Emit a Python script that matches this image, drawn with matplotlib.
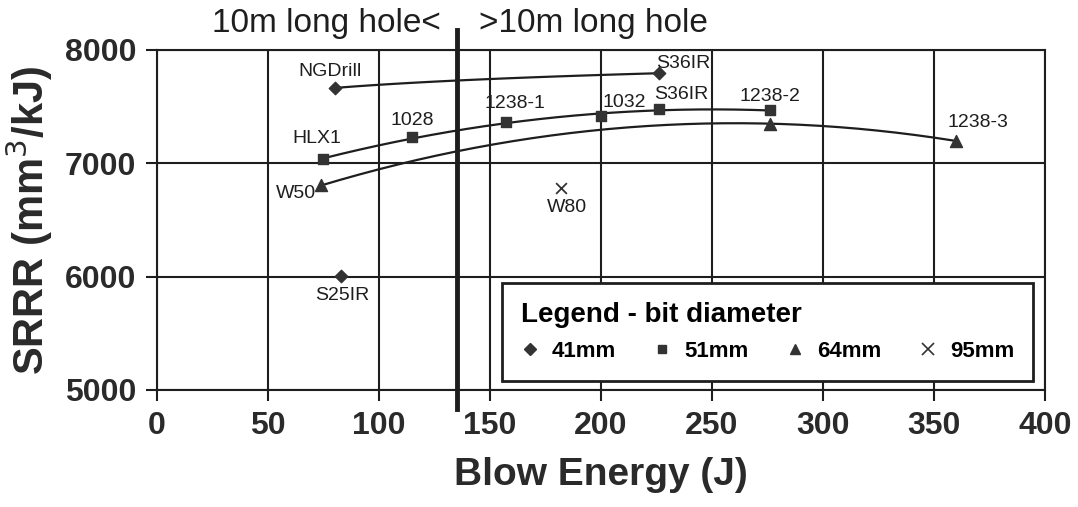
import numpy as np
import matplotlib.pyplot as plt
from matplotlib.lines import Line2D

plt.rcParams['font.family'] = ['Liberation Sans', 'DejaVu Sans']

# 41 mm bits
x41 = [80, 226, 83]
y41 = [7665, 7795, 6010]
lab41 = ['NGDrill', 'S36IR', 'S25IR']
# 51 mm bits
x51 = [75, 115, 157, 200, 226, 276]
y51 = [7035, 7233, 7364, 7414, 7475, 7470]
lab51 = ['HLX1', '1028', '1238-1', '1032', 'S36IR', '1238-2']
# 64 mm bits
x64 = [74, 276, 360]
y64 = [6805, 7350, 7197]
lab64 = ['W50', '', '1238-3']
# 95 mm bits
x95 = [182]
y95 = [6780]
lab95 = ['W80']

split_x = 135
xticks = [0, 50, 100, 150, 200, 250, 300, 350, 400]
yticks = [5000, 6000, 7000, 8000]

ink = '#1e1e1e'

fig = plt.figure(figsize=(10.78, 5.07), dpi=100)
ax = fig.add_axes([0.1456, 0.2308, 0.8238, 0.6706])

# trend lines
xa = np.linspace(x41[0], x41[1], 100)
c = np.polyfit(np.log(x41[:2]), y41[:2], 1)
ax.plot(xa, np.polyval(c, np.log(xa)), color=ink, lw=1.6, zorder=3)

xb = np.linspace(min(x51), max(x51), 200)
c = np.polyfit(x51, y51, 2)
ax.plot(xb, np.polyval(c, xb), color=ink, lw=1.6, zorder=3)

xc = np.linspace(min(x64), max(x64), 200)
c = np.polyfit(x64, y64, 2)
ax.plot(xc, np.polyval(c, xc), color=ink, lw=1.6, zorder=3)

ax.scatter(x41, y41, marker='D', s=40, color='#333333', zorder=4)
ax.scatter(x51, y51, marker='s', s=55, color='#333333', zorder=4)
ax.scatter(x64, y64, marker='^', s=75, color='#333333', zorder=4)
ax.scatter(x95, y95, marker='x', s=60, color='#333333', linewidths=1.3, zorder=4)

# point labels: (offset in points, ha, va)
fs = 14
pos41 = [((-3, 6), 'center', 'bottom'), ((-2, 1), 'left', 'bottom'), ((1, -8), 'center', 'top')]
pos51 = [((-5, 9), 'center', 'bottom'), ((0, 6), 'center', 'bottom'), ((7, 7), 'center', 'bottom'),
         ((1, 4), 'left', 'bottom'), ((-3, 5), 'left', 'bottom'), ((0, 4), 'center', 'bottom')]
pos64 = [((-4, 0), 'right', 'top'), ((0, 0), 'center', 'bottom'), ((16, 7), 'center', 'bottom')]
pos95 = [((4, -8), 'center', 'top')]
for xs, ys, labs, pos in [(x41, y41, lab41, pos41), (x51, y51, lab51, pos51),
                          (x64, y64, lab64, pos64), (x95, y95, lab95, pos95)]:
    for xv, yv, t, (off, ha, va) in zip(xs, ys, labs, pos):
        if t:
            ax.annotate(t, (xv, yv), xytext=off, textcoords='offset points',
                        ha=ha, va=va, fontsize=fs, color=ink, zorder=5)

# thick divider
ax.axvline(split_x, ymin=-0.055, ymax=1.06, color=ink, lw=3.5, clip_on=False, zorder=6)
ax.text(split_x - 7, 8235, '10m long hole<', ha='right', va='center', fontsize=24, color=ink)
ax.text(split_x + 10, 8235, '>10m long hole', ha='left', va='center', fontsize=24, color=ink)

ax.set_xlim(0, 400)
ax.set_ylim(5000, 8000)
ax.set_xticks(xticks)
ax.set_yticks(yticks)
ax.grid(True, color=ink, lw=1.5)
ax.set_axisbelow(True)
for s in ax.spines.values():
    s.set_color(ink)
    s.set_linewidth(1.5)
ax.tick_params(direction='out', length=8, width=1.5, color=ink, pad=7)
for t in ax.get_xticklabels() + ax.get_yticklabels():
    t.set_fontsize(23)
    t.set_fontweight('bold')
    t.set_color('#2a2a2a')

ax.set_xlabel('Blow Energy (J)', fontsize=28, fontweight='bold', color='#2a2a2a', labelpad=12)
ax.set_ylabel('SRRR (mm$^3$/kJ)', fontsize=30, fontweight='bold', color='#2a2a2a', labelpad=7)

handles = [
    Line2D([], [], marker='D', ls='none', color='#333333', markersize=6),
    Line2D([], [], marker='s', ls='none', color='#333333', markersize=6),
    Line2D([], [], marker='^', ls='none', color='#333333', markersize=7),
    Line2D([], [], marker='x', ls='none', color='#333333', markersize=8, mew=1.2),
]
leg = ax.legend(handles, ['41mm', '51mm', '64mm', '95mm'], ncol=4,
                loc='lower left', bbox_to_anchor=(0.3885, 0.026, 0.598, 0.292), mode='expand',
                title='Legend - bit diameter', alignment='left',
                prop={'size': 16, 'weight': 'bold'},
                title_fontproperties={'size': 20, 'weight': 'bold'},
                fancybox=False, framealpha=1, edgecolor=ink, borderpad=0.85,
                labelspacing=0.6, handlelength=0.8, handletextpad=0.6, columnspacing=1.0,
                borderaxespad=0)
leg.get_frame().set_linewidth(2)
leg.set_zorder(7)

fig.savefig('out.png', dpi=100)
